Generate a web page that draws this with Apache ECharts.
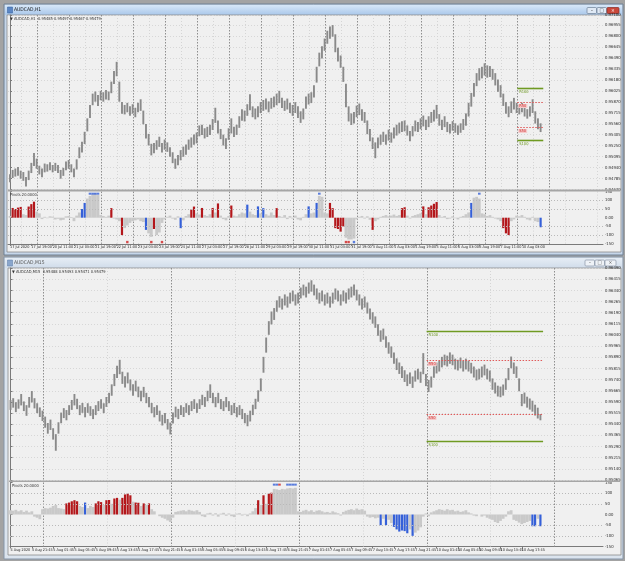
<!DOCTYPE html>
<html><head><meta charset="utf-8">
<script src="https://cdn.jsdelivr.net/npm/echarts@6/dist/echarts.min.js"></script>
<style>html,body{margin:0;padding:0;background:#a3a3a3}#c{width:625px;height:561px}</style>
</head><body><div id="c"></div><script>
// ---------- DATA ----------
// H1 window (2-hour bars), low / high prices
const h1Low = [0.9474,0.9480,0.9482,0.9483,0.9479,0.9476,0.9468,0.9477,0.9487,0.9497,0.9493,0.9485,0.9481,0.9488,0.9489,0.9491,0.9488,0.9490,0.9487,0.9479,
0.9483,0.9491,0.9493,0.9488,0.9481,0.9492,0.9508,0.9516,0.9528,0.9546,0.9565,0.9583,0.9588,0.9582,0.9590,0.9588,0.9591,0.9590,0.9600,0.9613,
0.9624,0.9588,0.9571,0.9570,0.9573,0.9568,0.9571,0.9566,0.9573,0.9575,0.9556,0.9536,0.9526,0.9512,0.9515,0.9520,0.9524,0.9516,0.9520,0.9517,
0.9510,0.9501,0.9493,0.9498,0.9505,0.9510,0.9513,0.9520,0.9523,0.9527,0.9529,0.9539,0.9541,0.9536,0.9538,0.9541,0.9548,0.9558,0.9543,0.9535,
0.9526,0.9521,0.9534,0.9543,0.9538,0.9541,0.9551,0.9561,0.9560,0.9568,0.9576,0.9566,0.9563,0.9566,0.9572,0.9575,0.9577,0.9573,0.9578,0.9580,
0.9583,0.9586,0.9579,0.9575,0.9577,0.9572,0.9568,0.9572,0.9565,0.9558,0.9563,0.9578,0.9584,0.9586,0.9594,0.9615,0.9638,0.9649,0.9660,0.9670,
0.9677,0.9680,0.9658,0.9645,0.9636,0.9616,0.9580,0.9560,0.9555,0.9557,0.9566,0.9569,0.9561,0.9558,0.9542,0.9532,0.9521,0.9508,0.9522,0.9527,
0.9531,0.9527,0.9533,0.9530,0.9536,0.9540,0.9543,0.9545,0.9546,0.9540,0.9532,0.9539,0.9546,0.9545,0.9549,0.9553,0.9548,0.9552,0.9558,0.9560,
0.9564,0.9554,0.9548,0.9552,0.9545,0.9543,0.9547,0.9544,0.9541,0.9544,0.9548,0.9554,0.9567,0.9581,0.9595,0.9610,0.9618,0.9621,0.9625,0.9622,
0.9623,0.9619,0.9611,0.9602,0.9594,0.9582,0.9571,0.9566,0.9572,0.9577,0.9572,0.9570,0.9573,0.9567,0.9564,0.9567,0.9572,0.9557,0.9549,0.9545];
const h1High = [0.9484,0.9490,0.9492,0.9494,0.9489,0.9487,0.9480,0.9489,0.9500,0.9514,0.9506,0.9496,0.9492,0.9499,0.9498,0.9501,0.9497,0.9500,0.9497,0.9490,
0.9493,0.9502,0.9504,0.9498,0.9492,0.9505,0.9522,0.9530,0.9544,0.9563,0.9582,0.9598,0.9601,0.9596,0.9602,0.9600,0.9603,0.9601,0.9615,0.9630,
0.9643,0.9615,0.9586,0.9582,0.9585,0.9580,0.9583,0.9578,0.9585,0.9590,0.9574,0.9555,0.9541,0.9527,0.9528,0.9532,0.9537,0.9528,0.9533,0.9529,
0.9522,0.9515,0.9506,0.9511,0.9518,0.9523,0.9526,0.9533,0.9536,0.9540,0.9543,0.9553,0.9554,0.9549,0.9551,0.9554,0.9562,0.9578,0.9560,0.9548,
0.9540,0.9535,0.9549,0.9563,0.9551,0.9554,0.9566,0.9576,0.9574,0.9583,0.9597,0.9580,0.9577,0.9580,0.9586,0.9589,0.9591,0.9587,0.9592,0.9594,
0.9598,0.9602,0.9592,0.9588,0.9591,0.9585,0.9582,0.9586,0.9580,0.9573,0.9577,0.9594,0.9598,0.9600,0.9610,0.9636,0.9656,0.9665,0.9676,0.9687,
0.9693,0.9695,0.9682,0.9663,0.9652,0.9636,0.9612,0.9580,0.9570,0.9572,0.9581,0.9584,0.9576,0.9572,0.9560,0.9548,0.9536,0.9529,0.9536,0.9540,
0.9544,0.9540,0.9547,0.9543,0.9550,0.9554,0.9557,0.9559,0.9560,0.9553,0.9545,0.9552,0.9560,0.9558,0.9563,0.9567,0.9561,0.9566,0.9572,0.9575,
0.9582,0.9569,0.9561,0.9566,0.9558,0.9555,0.9559,0.9556,0.9553,0.9556,0.9562,0.9570,0.9585,0.9599,0.9613,0.9627,0.9634,0.9636,0.9641,0.9638,
0.9637,0.9633,0.9627,0.9618,0.9610,0.9598,0.9586,0.9580,0.9587,0.9592,0.9585,0.9582,0.9585,0.9579,0.9576,0.9580,0.9590,0.9573,0.9563,0.9556];
const h1Osc = [10,56,50,58,62,20,15,64,78,92,35,25,-8,5,-3,8,6,-10,-6,-15,
-12,8,10,4,-20,12,30,50,85,110,125,135,140,130,15,10,5,12,55,-5,
-10,-20,-100,-60,-45,-30,-20,-15,-10,-20,-25,-70,-90,-110,-65,-100,-85,-30,-10,5,
12,-5,-12,8,-60,-15,10,20,47,64,25,18,56,15,10,20,56,30,82,12,
-8,-15,10,70,12,8,20,30,25,75,35,20,15,65,25,55,20,12,30,15,
55,10,5,15,-8,10,-5,12,-10,-15,5,20,65,25,30,85,125,120,30,25,
85,55,-60,-65,-80,-50,-115,-125,-125,-120,-10,5,10,-5,8,-12,-70,-20,-10,5,
10,15,8,12,18,10,15,55,60,12,-5,10,15,20,25,65,20,60,70,80,
90,15,5,10,-8,-5,8,-3,-10,5,10,20,30,85,115,120,110,25,20,10,
15,5,-5,-10,-20,-60,-90,-100,-20,-10,12,8,15,5,-10,-15,5,-20,-25,-55];
const h1RedIdx = [1,2,3,4,7,8,9,38,42,54,68,69,72,76,78,83,100,120,121,122,123,124,125,136,147,148,155,157,158,159,160,185,186,187];
const h1BlueIdx = [27,28,51,64,89,93,95,112,115,173,199];
const h1TopMarks = [30,31,32,33,116,176];
const h1BottomRed = [44,53,57,126,127];
const h1BottomBlue = [129];
const h1TimeLabels = ["17 Jul 2020","17 Jul 19:00","20 Jul 11:00","21 Jul 03:00","21 Jul 19:00","22 Jul 11:00","23 Jul 03:00","23 Jul 19:00","24 Jul 11:00","27 Jul 03:00","27 Jul 19:00","28 Jul 11:00","29 Jul 03:00","29 Jul 19:00","30 Jul 11:00","31 Jul 03:00","31 Jul 19:00","3 Aug 11:00","4 Aug 03:00","4 Aug 19:00","5 Aug 11:00","6 Aug 03:00","6 Aug 19:00","7 Aug 11:00","10 Aug 03:00","10 Aug 19:00"];
const h1Midnights = [10.25,22.25,34.25,46.25,58.25,70.25,82.25,94.25,106.25,118.25,130.25,142.25,154.25,166.25,178.25,190.25,202.25];
const h1Noons = [4.25,16.25,28.25,40.25,52.25,64.25,76.25,88.25,100.25,112.25,124.25,136.25,148.25,160.25,172.25,184.25,196.25,208.25,220.25];
const h1PivotSpan = [190.25, 200];

// M15 window (30-minute bars), low / high prices
const m15Low = [0.95540,0.95555,0.95525,0.95548,0.95570,0.95532,0.95500,0.95555,0.95590,0.95550,0.95518,0.95492,0.95465,0.95420,0.95380,0.95405,0.95340,0.95265,0.95380,0.95450,
0.95485,0.95470,0.95505,0.95540,0.95570,0.95545,0.95505,0.95520,0.95490,0.95520,0.95500,0.95478,0.95505,0.95532,0.95548,0.95518,0.95560,0.95585,0.95635,0.95700,
0.95755,0.95780,0.95715,0.95690,0.95718,0.95670,0.95635,0.95665,0.95625,0.95598,0.95625,0.95585,0.95558,0.95518,0.95490,0.95505,0.95462,0.95435,0.95450,0.95408,
0.95375,0.95448,0.95490,0.95478,0.95505,0.95492,0.95520,0.95505,0.95532,0.95546,0.95520,0.95546,0.95572,0.95560,0.95598,0.95620,0.95585,0.95558,0.95585,0.95545,
0.95532,0.95558,0.95532,0.95505,0.95518,0.95490,0.95505,0.95478,0.95450,0.95430,0.95462,0.95505,0.95545,0.95595,0.95665,0.95790,0.95925,0.96045,0.96115,0.96145,
0.96200,0.96228,0.96215,0.96242,0.96228,0.96255,0.96270,0.96242,0.96255,0.96290,0.96310,0.96296,0.96322,0.96335,0.96310,0.96282,0.96255,0.96270,0.96242,0.96255,
0.96228,0.96255,0.96282,0.96270,0.96242,0.96270,0.96255,0.96282,0.96296,0.96310,0.96276,0.96242,0.96215,0.96228,0.96188,0.96148,0.96120,0.96092,0.96038,0.95998,
0.96012,0.95958,0.95918,0.95890,0.95850,0.95808,0.95782,0.95755,0.95728,0.95700,0.95715,0.95688,0.95730,0.95745,0.95722,0.95780,0.95700,0.95660,0.95690,0.95756,
0.95785,0.95798,0.95826,0.95840,0.95832,0.95850,0.95840,0.95812,0.95805,0.95820,0.95798,0.95812,0.95798,0.95785,0.95758,0.95738,0.95745,0.95758,0.95772,0.95745,
0.95730,0.95675,0.95650,0.95630,0.95625,0.95636,0.95675,0.95740,0.95820,0.95782,0.95755,0.95665,0.95565,0.95582,0.95555,0.95542,0.95528,0.95502,0.95482,0.95470];
const m15High = [0.95600,0.95612,0.95585,0.95604,0.95640,0.95590,0.95565,0.95620,0.95660,0.95612,0.95578,0.95550,0.95528,0.95488,0.95445,0.95468,0.95410,0.95370,0.95450,0.95515,
0.95545,0.95532,0.95565,0.95600,0.95640,0.95608,0.95565,0.95580,0.95552,0.95578,0.95558,0.95538,0.95565,0.95592,0.95605,0.95578,0.95620,0.95648,0.95705,0.95775,
0.95830,0.95870,0.95790,0.95760,0.95785,0.95738,0.95705,0.95730,0.95690,0.95662,0.95688,0.95648,0.95620,0.95580,0.95552,0.95565,0.95528,0.95500,0.95512,0.95472,
0.95448,0.95515,0.95555,0.95540,0.95565,0.95552,0.95578,0.95565,0.95592,0.95605,0.95578,0.95605,0.95635,0.95620,0.95662,0.95705,0.95648,0.95620,0.95648,0.95606,
0.95592,0.95620,0.95592,0.95565,0.95580,0.95552,0.95565,0.95540,0.95512,0.95500,0.95528,0.95568,0.95608,0.95665,0.95745,0.95890,0.96020,0.96130,0.96195,0.96218,
0.96270,0.96298,0.96282,0.96310,0.96296,0.96322,0.96336,0.96310,0.96322,0.96356,0.96376,0.96362,0.96390,0.96405,0.96376,0.96350,0.96322,0.96336,0.96310,0.96322,
0.96296,0.96322,0.96350,0.96336,0.96310,0.96336,0.96322,0.96350,0.96362,0.96376,0.96342,0.96310,0.96282,0.96296,0.96256,0.96215,0.96190,0.96162,0.96110,0.96068,
0.96080,0.96028,0.95988,0.95960,0.95920,0.95880,0.95852,0.95826,0.95800,0.95772,0.95785,0.95758,0.95798,0.95810,0.95790,0.95915,0.95775,0.95735,0.95758,0.95826,
0.95852,0.95865,0.95890,0.95905,0.95898,0.95920,0.95905,0.95878,0.95870,0.95885,0.95864,0.95878,0.95864,0.95850,0.95825,0.95805,0.95810,0.95825,0.95838,0.95810,
0.95798,0.95745,0.95718,0.95696,0.95690,0.95704,0.95745,0.95815,0.95892,0.95852,0.95826,0.95745,0.95640,0.95650,0.95622,0.95610,0.95595,0.95568,0.95548,0.95505];
const m15Osc = [20,18,22,15,20,12,18,10,15,-10,-15,-22,25,30,28,32,40,45,30,28,
25,52,56,62,67,62,40,35,56,30,40,35,52,62,58,45,67,68,50,75,
78,70,78,94,98,90,60,56,55,40,52,45,52,25,15,0,-8,-15,-20,-28,
-35,-15,12,15,18,20,15,22,18,15,20,12,-8,-12,5,8,-5,6,-10,4,
8,-6,5,-8,-12,4,6,-5,3,-8,5,15,30,67,45,90,50,98,102,120,
118,115,120,118,122,124,122,125,15,12,18,22,15,20,12,18,20,15,10,12,
8,15,10,6,-5,12,18,22,25,20,28,22,25,18,-10,-15,-12,-18,-15,-50,
-20,-50,-25,-40,-58,-70,-80,-75,-78,-88,-70,-100,-85,-75,-60,-10,5,-8,10,15,
20,25,22,18,25,20,22,15,18,12,15,20,10,5,-5,-8,0,-10,-5,-15,
-20,-25,-35,-40,-30,-20,-10,15,20,-25,-30,-38,-45,-40,-35,-30,-55,-55,-20,-55];
const m15RedIdx = [21,22,23,24,25,32,33,34,36,37,39,40,42,43,44,45,47,48,50,52,93,95,97,98];
const m15BlueIdx = [28,139,141,144,145,146,147,148,149,151,196,197,199];
const m15TopBlue = [99,100,104,105,106,107];
const m15TopRed = [101];
const m15TimeLabels = ["4 Aug 2020","4 Aug 21:45","5 Aug 01:45","5 Aug 05:45","5 Aug 09:45","5 Aug 13:45","5 Aug 17:45","5 Aug 21:45","6 Aug 01:45","6 Aug 05:45","6 Aug 09:45","6 Aug 13:45","6 Aug 17:45","6 Aug 21:45","7 Aug 01:45","7 Aug 05:45","7 Aug 09:45","7 Aug 13:45","7 Aug 17:45","7 Aug 21:45","10 Aug 01:45","10 Aug 05:45","10 Aug 09:45","10 Aug 13:45","10 Aug 17:45","10 Aug 21:45"];
const m15Midnights = [12.25,60.25,108.25,156.25,204.25];
const m15Noons = [36.25,84.25,132.25,180.25];
const m15PivotSpan = [156.25, 200];

// shared
const pivotNames = ["R100","R50","S50","S100"];
const pivotLevels = [0.96065,0.95875,0.95512,0.95327];
const oscLevels = [100,50,-50,-100];
const lastPrice = 0.95479;
const h1Quote = "AUDCAD,H1  0.95485 0.95497 0.95467 0.95479";
const m15Quote = "AUDCAD,M15  0.95488 0.95493 0.95471 0.95479";
const oscName = "Pivots 20.0000";

// ---------- BUILD ----------
const FONT = "'Liberation Sans Narrow','DejaVu Sans Condensed','Liberation Sans',sans-serif";
const RED = '#b3171b', BLUE = '#3560d8', GRAY = '#c9c9c9';
function codes(n, red, blue){ const c = new Array(n).fill(0); red.forEach(i=>c[i]=1); blue.forEach(i=>c[i]=2); return c; }
const h1Codes = codes(h1Osc.length, h1RedIdx, h1BlueIdx);
const m15Codes = codes(m15Osc.length, m15RedIdx, m15BlueIdx);

function rangeItem(params, api){
  const x = api.value(0);
  const a = api.coord([x, api.value(1)]), b = api.coord([x, api.value(2)]);
  return {type:'line', shape:{x1:a[0], y1:a[1]+0.5, x2:a[0], y2:b[1]-0.5}, style:{stroke:'#8a8a8a', lineWidth:1.9}};
}
function histItem(params, api){
  const i = api.value(0), v = api.value(1), c = api.value(2);
  const p0 = api.coord([i, 0]), p1 = api.coord([i, v]);
  const w = c ? 2.2 : 2.8;
  return {type:'rect', shape:{x:p0[0]-w/2, y:Math.min(p0[1],p1[1]), width:w, height:Math.abs(p1[1]-p0[1])},
    style:{fill: c===1 ? RED : (c===2 ? BLUE : GRAY)}};
}
function vlineItem(color, dash){
  return function(params, api){
    const cs = params.coordSys;
    const x = Math.round(api.coord([api.value(0), api.value(1)])[0]) + 0.5;
    return {type:'line', shape:{x1:x, y1:cs.y, x2:x, y2:cs.y+cs.height}, style:{stroke:color, lineWidth:1, lineDash:dash}};
  };
}
function pivotItem(params, api){
  const x1 = api.value(0), x2 = api.value(1), lv = api.value(2), k = api.value(3);
  const a = api.coord([x1, lv]), b = api.coord([x2, lv]);
  const green = (k === 0 || k === 3);
  const y = Math.round(a[1]) + 0.5;
  return {type:'group', children:[
    {type:'line', shape:{x1:a[0], y1:y, x2:b[0], y2:y},
      style: green ? {stroke:'#6f9a22', lineWidth:1.6} : {stroke:'#e05a5a', lineWidth:1, lineDash:[1.5,1.5]}},
    {type:'text', style:{text:pivotNames[k], x:a[0]+1, y:y+1.5, fontSize:4, fontFamily:FONT,
      fill: green ? '#6f9a22' : '#d03030', backgroundColor: green ? null : '#f5caca', padding:[0,1]}}
  ]};
}

const vGridSeries = [];
function addVGrid(grid, noons, mids){
  vGridSeries.push({type:'custom', xAxisIndex:grid, yAxisIndex:grid, silent:true, z:1,
    renderItem: vlineItem('#d5d5d5',[1,2]), data: noons.map(v=>[v, grid%2===0 ? 0.955 : 0]), clip:false});
  vGridSeries.push({type:'custom', xAxisIndex:grid, yAxisIndex:grid, silent:true, z:1,
    renderItem: vlineItem('#8e8e8e',[1.5,1.5]), data: mids.map(v=>[v, grid%2===0 ? 0.955 : 0]), clip:false});
}
addVGrid(0, h1Noons, h1Midnights); addVGrid(1, h1Noons, h1Midnights);
addVGrid(2, m15Noons, m15Midnights); addVGrid(3, m15Noons, m15Midnights);

const topTicks = h1TimeLabels.map((_, m)=>m*8);
const botTicks = m15TimeLabels.map((_, m)=>m*8);
const lblStyle = {fontSize:4.2, color:'#2a2a2a', fontFamily:FONT};

function priceY(grid, min, max, step){
  return {gridIndex:grid, type:'value', position:'right', min:min, max:max, interval:step, scale:true,
    axisLine:{show:true, lineStyle:{color:'#7a7a7a'}}, axisTick:{show:true, length:2, lineStyle:{color:'#7a7a7a'}},
    axisLabel:Object.assign({margin:2, formatter:v=>v.toFixed(5)}, lblStyle),
    splitLine:{show:true, lineStyle:{color:'#d7d7d7', type:[1,2]}}};
}
function oscY(grid){
  return {gridIndex:grid, type:'value', position:'right', min:-150, max:150, interval:50,
    axisLine:{show:true, lineStyle:{color:'#7a7a7a'}}, axisTick:{show:true, length:2, lineStyle:{color:'#7a7a7a'}},
    axisLabel:Object.assign({margin:2, formatter:v=> v===0 ? '0.00' : String(v)}, lblStyle),
    splitLine:{show:false}};
}
function timeX(grid, min, max, ticks, labels, showLabels){
  return {gridIndex:grid, type:'value', min:min, max:max,
    axisLine:{show:showLabels, onZero:false, lineStyle:{color:'#7a7a7a'}},
    axisTick:{show:showLabels, customValues:ticks, length:2, lineStyle:{color:'#7a7a7a'}},
    axisLabel:Object.assign({show:showLabels, customValues:ticks, margin:1.5, align:'left',
      formatter:v=>labels[Math.round(v/8)] || ''}, lblStyle, {fontSize:3.8}),
    splitLine:{show:false}};
}

const priceMark = {silent:true, symbol:'none', lineStyle:{opacity:0},
  label:{position:'end', distance:1, formatter:()=>lastPrice.toFixed(5), backgroundColor:'#3a3a3a', color:'#ffffff',
    fontSize:4.2, fontFamily:FONT, padding:[1,1.5]},
  data:[{yAxis:lastPrice}]};

const series = [].concat(vGridSeries, [
  {type:'custom', xAxisIndex:0, yAxisIndex:0, renderItem:rangeItem, encode:{x:0, y:[1,2]}, z:3,
    data:h1Low.map((lo,i)=>[i, lo, h1High[i]]), markLine:priceMark},
  {type:'custom', xAxisIndex:0, yAxisIndex:0, renderItem:pivotItem, z:4,
    data:pivotLevels.map((lv,k)=>[h1PivotSpan[0], h1PivotSpan[1], lv, k])},
  {type:'custom', xAxisIndex:1, yAxisIndex:1, renderItem:histItem, z:3,
    data:h1Osc.map((v,i)=>[i, v, h1Codes[i]]),
    markLine:{silent:true, symbol:'none', label:{show:false}, lineStyle:{color:'#b9b9b9', type:[1,2], width:1},
      data:oscLevels.map(v=>({yAxis:v}))}},
  {type:'scatter', xAxisIndex:1, yAxisIndex:1, symbol:'rect', symbolSize:[2.6,2], z:5, itemStyle:{color:BLUE},
    data:h1TopMarks.map(i=>[i, 138])},
  {type:'scatter', xAxisIndex:1, yAxisIndex:1, symbol:'rect', symbolSize:[2.4,2.4], z:5, itemStyle:{color:'#d02020'},
    data:h1BottomRed.map(i=>[i, -140])},
  {type:'scatter', xAxisIndex:1, yAxisIndex:1, symbol:'rect', symbolSize:[2.4,2.4], z:5, itemStyle:{color:BLUE},
    data:h1BottomBlue.map(i=>[i, -140])},

  {type:'custom', xAxisIndex:2, yAxisIndex:2, renderItem:rangeItem, encode:{x:0, y:[1,2]}, z:3,
    data:m15Low.map((lo,i)=>[i, lo, m15High[i]]), markLine:priceMark},
  {type:'custom', xAxisIndex:2, yAxisIndex:2, renderItem:pivotItem, z:4,
    data:pivotLevels.map((lv,k)=>[m15PivotSpan[0], m15PivotSpan[1], lv, k])},
  {type:'custom', xAxisIndex:3, yAxisIndex:3, renderItem:histItem, z:3,
    data:m15Osc.map((v,i)=>[i, v, m15Codes[i]]),
    markLine:{silent:true, symbol:'none', label:{show:false}, lineStyle:{color:'#b9b9b9', type:[1,2], width:1},
      data:oscLevels.map(v=>({yAxis:v}))}},
  {type:'scatter', xAxisIndex:3, yAxisIndex:3, symbol:'rect', symbolSize:[2.6,2], z:5, itemStyle:{color:BLUE},
    data:m15TopBlue.map(i=>[i, 140])},
  {type:'scatter', xAxisIndex:3, yAxisIndex:3, symbol:'rect', symbolSize:[2.6,2], z:5, itemStyle:{color:'#d02020'},
    data:m15TopRed.map(i=>[i, 140])}
]);

function btn(x, y, w, h, fill, stroke, glyph, gcol){
  return [{type:'rect', shape:{x:x, y:y, width:w, height:h, r:1}, style:{fill:fill, stroke:stroke, lineWidth:0.7}, z:-1},
          {type:'text', style:{text:glyph, x:x+w/2, y:y+h/2, align:'center', verticalAlign:'middle', fontSize:5, fill:gcol, fontFamily:FONT}, z:-1}];
}
const chrome = [].concat(
  [{type:'rect', shape:{x:4, y:4, width:619, height:251}, style:{fill:'#c6d6e9', stroke:'#6f8094', lineWidth:1}, z:-3},
   {type:'rect', shape:{x:5, y:5, width:617, height:10},
     style:{fill:new echarts.graphic.LinearGradient(0,0,0,1,[{offset:0,color:'#d7e7f8'},{offset:1,color:'#a9c7ea'}])}, z:-2},
   {type:'rect', shape:{x:7, y:15, width:614, height:237}, style:{fill:'#f0f0f0', stroke:'#8a8a8a', lineWidth:0.8}, z:-2},
   {type:'rect', shape:{x:8, y:189.5, width:612, height:2}, style:{fill:'#a6a6a6'}, z:2},
   {type:'rect', shape:{x:7.5, y:7, width:5, height:6}, style:{fill:'#5b86c4', stroke:'#2f5a9a', lineWidth:0.5}, z:-1},
   {type:'text', style:{text:'AUDCAD,H1', x:14, y:10, verticalAlign:'middle', fontSize:5, fill:'#1b1b1b', fontFamily:FONT}, z:-1},
   {type:'text', style:{text:'\u25BC '+h1Quote, x:10, y:18.5, verticalAlign:'middle', fontSize:4, fill:'#333', fontFamily:FONT}, z:6},
   {type:'text', style:{text:oscName, x:10, y:195, verticalAlign:'middle', fontSize:4, fill:'#333', fontFamily:FONT}, z:6},

   {type:'rect', shape:{x:4, y:257, width:619, height:302}, style:{fill:'#dbe4ee', stroke:'#8595a8', lineWidth:1}, z:-3},
   {type:'rect', shape:{x:5, y:258, width:617, height:10},
     style:{fill:new echarts.graphic.LinearGradient(0,0,0,1,[{offset:0,color:'#e6edf5'},{offset:1,color:'#d0dcea'}])}, z:-2},
   {type:'rect', shape:{x:8, y:268, width:613, height:287}, style:{fill:'#f0f0f0', stroke:'#8a8a8a', lineWidth:0.8}, z:-2},
   {type:'rect', shape:{x:9, y:480.5, width:611, height:1.6}, style:{fill:'#a6a6a6'}, z:2},
   {type:'rect', shape:{x:7.5, y:260, width:5, height:6}, style:{fill:'#8aa6cc', stroke:'#5b7aa6', lineWidth:0.5}, z:-1},
   {type:'text', style:{text:'AUDCAD,M15', x:14, y:263, verticalAlign:'middle', fontSize:5, fill:'#555', fontFamily:FONT}, z:-1},
   {type:'text', style:{text:'\u25BC '+m15Quote, x:12, y:271.5, verticalAlign:'middle', fontSize:4, fill:'#333', fontFamily:FONT}, z:6},
   {type:'text', style:{text:oscName, x:12, y:485.5, verticalAlign:'middle', fontSize:4, fill:'#333', fontFamily:FONT}, z:6}],
  btn(587, 7.5, 9.5, 6, '#dfe9f5', '#6d7f95', '\u2013', '#333'),
  btn(597, 7.5, 9.5, 6, '#dfe9f5', '#6d7f95', '\u25A1', '#333'),
  btn(607, 7.5, 12, 6, '#c9473a', '#8a2a20', '\u00D7', '#fff'),
  btn(585, 260, 9.5, 6, '#eef2f7', '#8a97a8', '\u2013', '#555'),
  btn(595, 260, 9.5, 6, '#eef2f7', '#8a97a8', '\u25A1', '#555'),
  btn(605, 260, 11, 6, '#eef2f7', '#8a97a8', '\u00D7', '#555')
);

const option = {
  animation:false,
  backgroundColor:'#a3a3a3',
  grid:[
    {left:8, top:15, width:595, height:174.5},
    {left:8, top:191.6, width:595, height:52.2},
    {left:10, top:268, width:593, height:212},
    {left:10, top:482.5, width:593, height:64}
  ],
  xAxis:[
    timeX(0, -0.75, 222.4, topTicks, h1TimeLabels, false),
    timeX(1, -0.75, 222.4, topTicks, h1TimeLabels, true),
    timeX(2, -0.2, 222.5, botTicks, m15TimeLabels, false),
    timeX(3, -0.2, 222.5, botTicks, m15TimeLabels, true)
  ],
  yAxis:[
    priceY(0, 0.94630, 0.97100, 0.00155),
    oscY(1),
    priceY(2, 0.95065, 0.96491, 0.00075),
    oscY(3)
  ],
  graphic:{elements:chrome},
  series:series
};
const chart = echarts.init(document.getElementById('c'), null, {renderer:'canvas', width:625, height:561});
chart.setOption(option);
</script></body></html>
